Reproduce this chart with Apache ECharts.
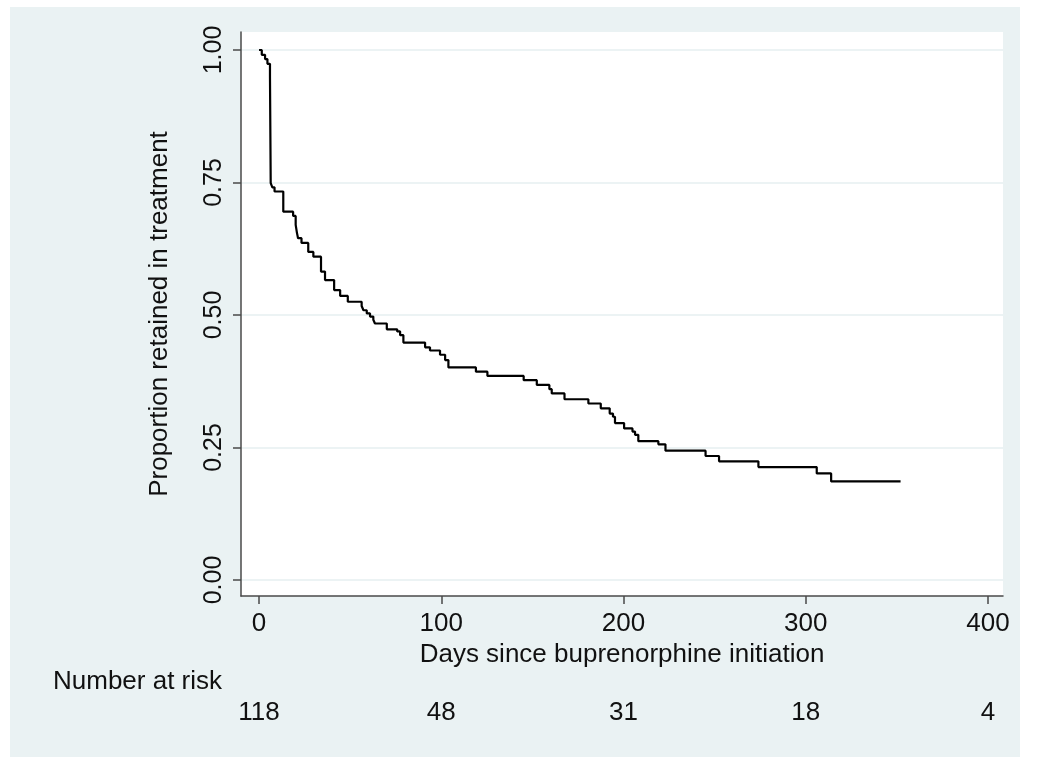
<!DOCTYPE html>
<html>
<head>
<meta charset="utf-8">
<script src="https://cdn.jsdelivr.net/npm/echarts@6/dist/echarts.min.js"></script>
<style>
html,body{margin:0;padding:0;background:#ffffff;}
#chart{width:1050px;height:769px;}
</style>
</head>
<body>
<div id="chart"></div>
<script>
// Kaplan-Meier step points: day of event, survival after the event
const days = [0, 1.5, 3.3, 4.6, 6.0, 6.4, 7.3, 8.5, 13.3, 18.7, 20.1, 20.8, 21.4, 23.3, 27.0, 29.8, 34.0, 36.2, 41.2, 44.5, 48.7,
  56.3, 57.3, 59.1, 60.9, 62.7, 63.6, 70.1, 75.8, 77.4, 79.2, 91.1, 93.8, 99.3, 102.1, 103.9, 119.0, 125.3,
  145.2, 152.4, 159.3, 160.6, 167.6, 180.7, 187.5, 192.4, 194.2, 195.3, 200.3, 204.9, 206.3, 208.1, 219.1, 223.0,
  245.0, 252.4, 274.0, 306.0, 313.9, 352.0];
const survival = [1.0, 0.991, 0.983, 0.974, 0.950, 0.749, 0.741, 0.733, 0.695, 0.687, 0.670, 0.655, 0.645, 0.636, 0.619, 0.610, 0.582, 0.566, 0.547, 0.536, 0.525,
  0.517, 0.509, 0.503, 0.497, 0.491, 0.484, 0.473, 0.469, 0.462, 0.448, 0.439, 0.433, 0.425, 0.415, 0.401, 0.393, 0.385,
  0.377, 0.368, 0.360, 0.352, 0.341, 0.333, 0.324, 0.314, 0.308, 0.296, 0.286, 0.280, 0.274, 0.262, 0.256, 0.244,
  0.234, 0.224, 0.213, 0.201, 0.186, 0.186];
const xTicks = [0, 100, 200, 300, 400];
const yTicks = [0, 0.25, 0.5, 0.75, 1.0];
const atRisk = [118, 48, 31, 18, 4];

const FONT = 'Liberation Sans, Arial, Helvetica, sans-serif';
const FS = 26;
const TXT = '#111111';
const AX = '#4a4a4a';
const GRIDC = '#e6eff1';

const chart = echarts.init(document.getElementById('chart'));
const riskMap = {};
xTicks.forEach((t, i) => { riskMap[t] = atRisk[i]; });

chart.setOption({
  backgroundColor: '#ffffff',
  animation: false,
  graphic: [
    { type: 'rect', z: -10, shape: { x: 10, y: 7, width: 1010, height: 750 }, style: { fill: '#eaf2f3' } },
    { type: 'rect', z: -9, shape: { x: 241, y: 32, width: 762, height: 564 }, style: { fill: '#ffffff' } },
    { type: 'text', left: 53, top: 669, style: { text: 'Number at risk', fontSize: FS, fontFamily: FONT, fill: TXT } }
  ],
  grid: { left: 241, top: 32, width: 762, height: 564, containLabel: false },
  xAxis: [
    {
      type: 'value', min: -9.9, max: 408.2,
      name: 'Days since buprenorphine initiation', nameLocation: 'middle', nameGap: 46,
      nameTextStyle: { fontSize: FS, fontFamily: FONT, color: TXT },
      axisLine: { show: true, onZero: false, lineStyle: { color: AX, width: 1.5 } },
      axisTick: { show: true, length: 8, customValues: xTicks, lineStyle: { color: AX, width: 1.5 } },
      axisLabel: { customValues: xTicks, fontSize: FS, fontFamily: FONT, color: TXT, margin: 15 },
      splitLine: { show: false }
    },
    {
      type: 'value', min: -9.9, max: 408.2, position: 'bottom', offset: 104,
      axisLine: { show: false }, axisTick: { show: false }, splitLine: { show: false },
      axisLabel: { customValues: xTicks, fontSize: FS, fontFamily: FONT, color: TXT, margin: 0,
        formatter: v => String(riskMap[v] !== undefined ? riskMap[v] : '') }
    }
  ],
  yAxis: {
    type: 'value', min: -0.0302, max: 1.034,
    name: 'Proportion retained in treatment', nameLocation: 'middle', nameGap: 68, nameRotate: 90,
    nameTextStyle: { fontSize: FS, fontFamily: FONT, color: TXT },
    axisLine: { show: true, onZero: false, lineStyle: { color: AX, width: 1.5 } },
    axisTick: { show: true, length: 8, customValues: yTicks, lineStyle: { color: AX, width: 1.5 } },
    axisLabel: { customValues: yTicks, rotate: 90, fontSize: 25, fontFamily: FONT, color: TXT, margin: 14,
      formatter: v => v.toFixed(2) },
    splitLine: { show: true, lineStyle: { color: GRIDC, width: 1.5 } }
  },
  series: [{
    type: 'line', step: 'end', symbol: 'none', xAxisIndex: 0,
    data: days.map((d, i) => [d, survival[i]]),
    lineStyle: { color: '#000000', width: 2.2 }
  }]
});
</script>
</body>
</html>
